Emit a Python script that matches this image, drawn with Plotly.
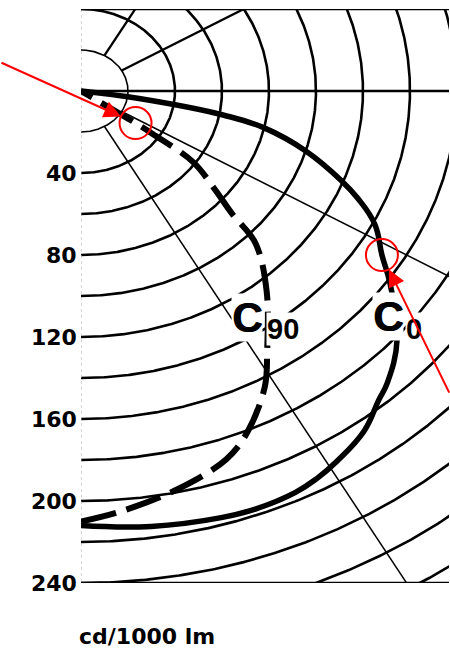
import numpy as np
import plotly.graph_objects as go

# Luminous intensity distribution in cd/1000 lm, angle measured from nadir (deg)
c0_angles = [0, 8, 16, 20, 25, 28, 31, 36, 40, 42.5, 48, 54.5, 58, 62.5, 66, 68.5, 73, 77, 79, 81.5, 84]
c0_values = [212, 214.5, 216.5, 217, 216, 214, 211, 205, 197, 193, 181, 161.5, 151, 141, 129, 119, 100, 80, 62, 25, 0]

c90_angles = [0, 5, 12, 19, 23, 28.5, 32, 39, 45, 47, 50, 54, 55.5, 56, 56.5]
c90_values = [210, 205.5, 198.5, 190, 181, 164, 149.5, 125.5, 105, 88, 74, 59, 37, 28, 0]

# Cut-off points marked on the curves (angle, intensity)
mark_angles = [56, 58]
mark_values = [28, 151]
# Arrow tails relative to the marked points, in pixels
arrow_dx = [-136, 68]
arrow_dy = [-61, 139]

# Polar grid
ring_values = list(range(20, 320, 20))
spoke_angles = [30, 60, 90, 120, 150]
spoke_starts = [20, 20, 0, 20, 20]
tick_values = [40, 80, 120, 160, 200, 240]

X_MAX = 156.6
Y_MIN, Y_MAX = -240, 40


def to_xy(angles, values):
    a = np.radians(np.asarray(angles, dtype=float))
    v = np.asarray(values, dtype=float)
    return v * np.sin(a), -v * np.cos(a)


fig = go.Figure()

theta = np.linspace(0, 180, 721)
for r in ring_values:
    x, y = to_xy(theta, np.full_like(theta, r))
    fig.add_trace(go.Scatter(
        x=x, y=y, mode="lines",
        line=dict(color="black", width=1.6 if r == 20 else 2.6),
        hoverinfo="skip", showlegend=False))

for a, s in zip(spoke_angles, spoke_starts):
    x, y = to_xy([a, a], [s, 420])
    w = 1.5 if a in (30, 60) else 2.3
    fig.add_trace(go.Scatter(
        x=x, y=y, mode="lines", line=dict(color="black", width=w),
        hoverinfo="skip", showlegend=False))

# faint left edge along the nadir axis
fig.add_trace(go.Scatter(
    x=[0, 0], y=[Y_MAX, Y_MIN], mode="lines",
    line=dict(color="#b0b0b0", width=1, dash="dot"),
    hoverinfo="skip", showlegend=False))

x0, y0 = to_xy(c0_angles, c0_values)
fig.add_trace(go.Scatter(
    x=x0, y=y0, mode="lines", name="C0",
    line=dict(color="black", width=5.5, shape="spline", smoothing=1.2),
    showlegend=False))

x90, y90 = to_xy(c90_angles, c90_values)
fig.add_trace(go.Scatter(
    x=x90, y=y90, mode="lines", name="C90",
    line=dict(color="black", width=6, shape="spline", smoothing=1.0, dash="36px,11px"),
    showlegend=False))

shapes = [
    dict(type="line", xref="paper", yref="y", x0=0, x1=1, y0=Y_MAX, y1=Y_MAX,
         line=dict(color="black", width=2.5)),
    dict(type="line", xref="paper", yref="y", x0=0, x1=1, y0=Y_MIN, y1=Y_MIN,
         line=dict(color="black", width=2.5)),
]

annotations = []

# C-plane labels, knocked out of the lines behind them
cfont = dict(family="Liberation Sans", size=42, color="black", weight="bold",
             shadow="1px 0px 0px black")
sfont = dict(family="Liberation Sans", size=29, color="black", weight="bold")
for cx, cy, sx, sy, sub in [(70.5, -110.3, 85.8, -116.2, "90"),
                            (130.5, -109.9, 141.8, -116.2, "0")]:
    annotations.append(dict(x=cx, y=cy, xref="x", yref="y", text="C", showarrow=False,
                            xanchor="center", yanchor="middle", font=cfont,
                            bgcolor="white", borderpad=0))
    annotations.append(dict(x=sx, y=sy, xref="x", yref="y", text=sub, showarrow=False,
                            xanchor="center", yanchor="middle", font=sfont,
                            bgcolor="white", borderpad=0))

mx, my = to_xy(mark_angles, mark_values)
for cx, cy, dx, dy in zip(mx, my, arrow_dx, arrow_dy):
    shapes.append(dict(
        type="circle", xref="x", yref="y", xsizemode="pixel", ysizemode="pixel",
        xanchor=cx, yanchor=cy, x0=-16, x1=16, y0=-16, y1=16,
        line=dict(color="red", width=2)))
    annotations.append(dict(
        x=cx, y=cy, xref="x", yref="y", text="", showarrow=True,
        ax=dx, ay=dy, standoff=16, arrowhead=2, arrowsize=1.7,
        arrowwidth=2, arrowcolor="red"))

for v in tick_values:
    annotations.append(dict(
        x=0, y=-v, xref="x", yref="y", text=str(v), showarrow=False,
        xanchor="right", yanchor="middle", xshift=-2,
        font=dict(family="DejaVu Sans", size=22, color="black", weight="bold")))

annotations.append(dict(
    x=-4 / 368, y=(583 - 637) / 574, xref="paper", yref="paper",
    text="cd/1000 lm", showarrow=False, xanchor="left", yanchor="middle",
    font=dict(family="DejaVu Sans", size=22, color="black", weight="bold")))

fig.update_layout(
    width=450, height=648,
    margin=dict(l=81, r=1, t=9, b=65),
    paper_bgcolor="white", plot_bgcolor="white",
    xaxis=dict(range=[0, X_MAX], visible=False, fixedrange=True),
    yaxis=dict(range=[Y_MIN, Y_MAX], visible=False, fixedrange=True),
    shapes=shapes, annotations=annotations,
)

fig.write_html("out.html")
